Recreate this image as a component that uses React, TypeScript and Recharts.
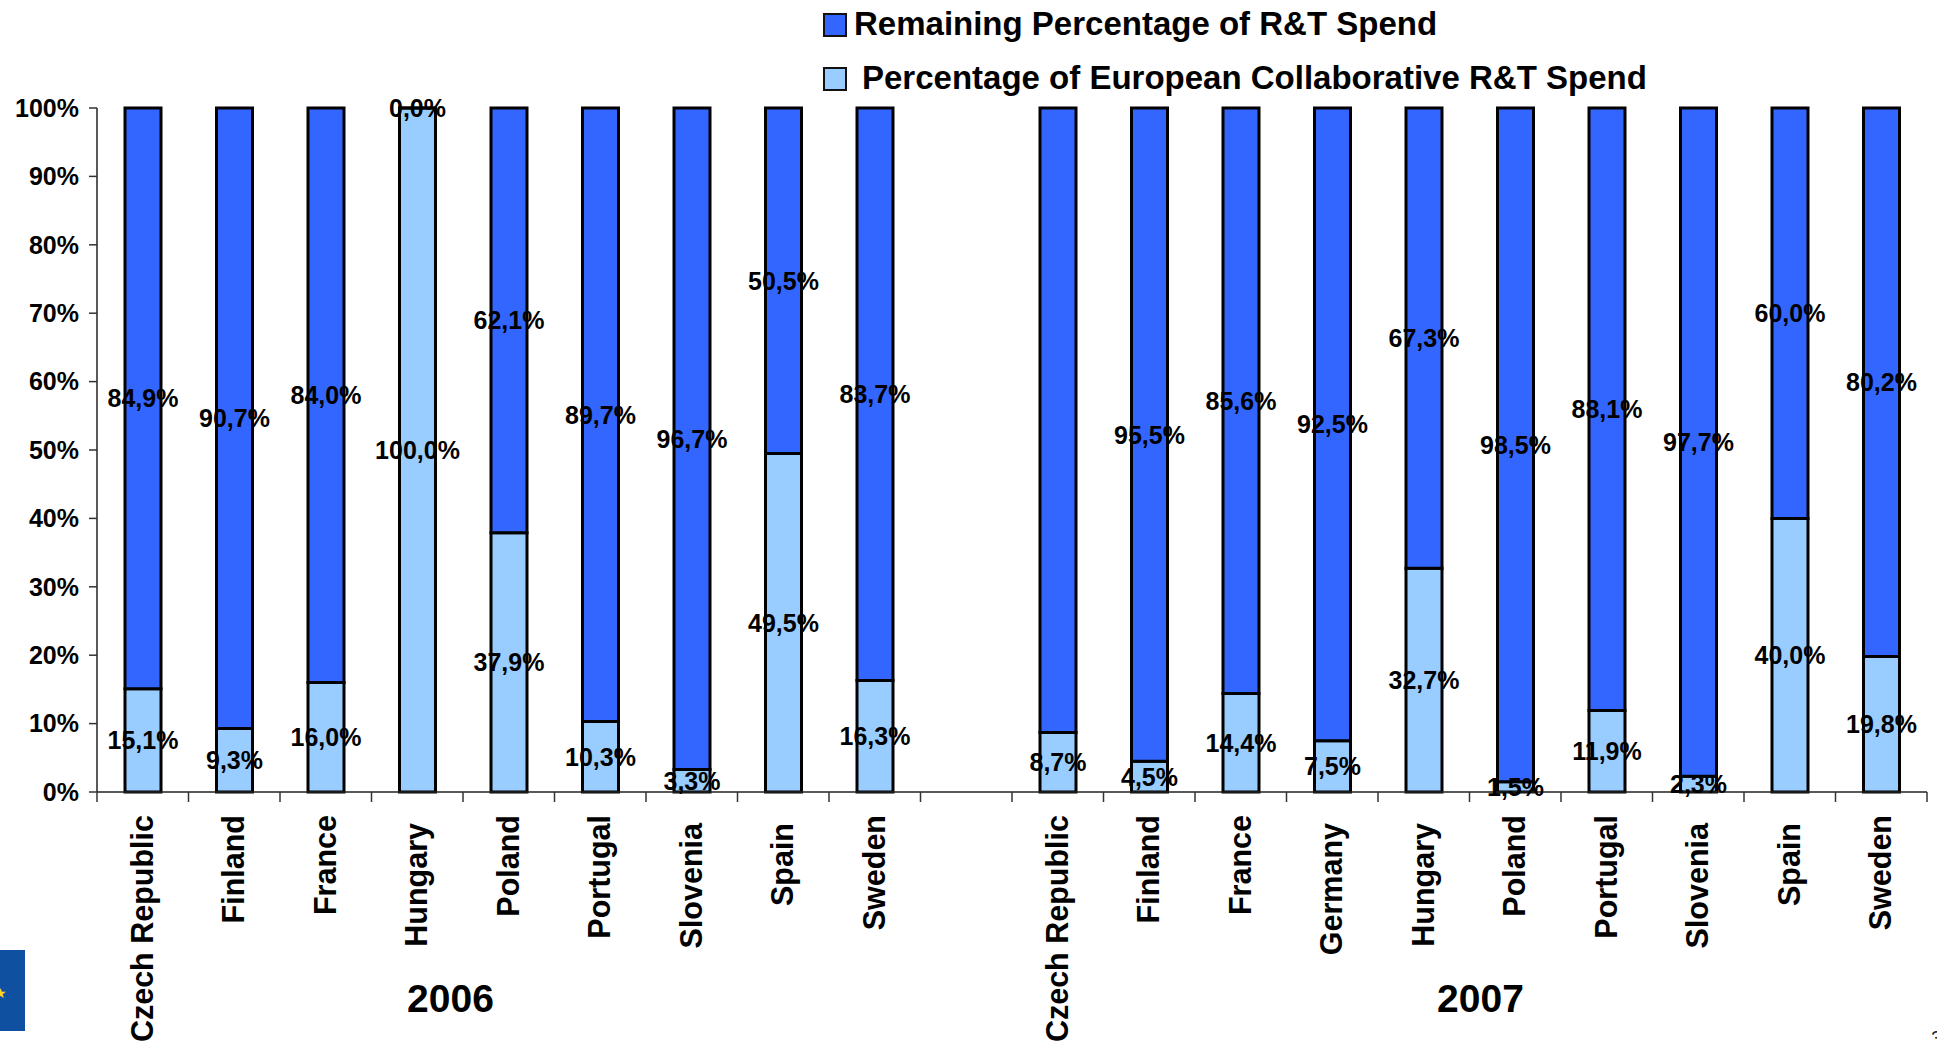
import { BarChart, Bar, XAxis, YAxis, LabelList, Legend } from "recharts";

const countries = [
  "Czech Republic", "Finland", "France", "Hungary", "Poland", "Portugal", "Slovenia", "Spain", "Sweden",
  "",
  "Czech Republic", "Finland", "France", "Germany", "Hungary", "Poland", "Portugal", "Slovenia", "Spain", "Sweden",
];
const collaborative = [15.1, 9.3, 16.0, 100, 37.9, 10.3, 3.3, 49.5, 16.3, 0, 8.7, 4.5, 14.4, 7.5, 32.7, 1.5, 11.9, 2.3, 40.0, 19.8];
const remaining = [84.9, 90.7, 84.0, 0, 62.1, 89.7, 96.7, 50.5, 83.7, 0, 91.3, 95.5, 85.6, 92.5, 67.3, 98.5, 88.1, 97.7, 60.0, 80.2];
const collaborativeLabels = ["15,1%", "9,3%", "16,0%", "100,0%", "37,9%", "10,3%", "3,3%", "49,5%", "16,3%", "", "8,7%", "4,5%", "14,4%", "7,5%", "32,7%", "1,5%", "11,9%", "2,3%", "40,0%", "19,8%"];
const remainingLabels = ["84,9%", "90,7%", "84,0%", "0,0%", "62,1%", "89,7%", "96,7%", "50,5%", "83,7%", "", "", "95,5%", "85,6%", "92,5%", "67,3%", "98,5%", "88,1%", "97,7%", "60,0%", "80,2%"];
const yTicks = [0, 10, 20, 30, 40, 50, 60, 70, 80, 90, 100];

const chartData = countries.map((name, i) => ({
  slot: i,
  name,
  collaborative: collaborative[i],
  remaining: remaining[i],
  collaborativeLabel: collaborativeLabels[i],
  remainingLabel: remainingLabels[i],
}));

const FONT = "'Liberation Sans', Arial, sans-serif";
const DARK_BLUE = "#3366FF";
const LIGHT_BLUE = "#99CCFF";
const SLOT_WIDTH = 91.5;
// these names sit a little lower than the others in the source slide
const LOWERED = ["Hungary", "Slovenia", "Spain", "Germany"];

function CountryTick({ x, y, payload, index }: any) {
  const left = x - SLOT_WIDTH / 2;
  const axisY = y - 8;
  const name = countries[payload.value];
  const top = axisY + 23 + (LOWERED.includes(name) ? 8 : 0);
  return (
    <g>
      <line x1={left} x2={left} y1={axisY} y2={axisY + 10} stroke="#333" strokeWidth={1.5} />
      {index === countries.length - 1 && (
        <line x1={left + SLOT_WIDTH} x2={left + SLOT_WIDTH} y1={axisY} y2={axisY + 10} stroke="#333" strokeWidth={1.5} />
      )}
      <text
        transform={`translate(${x + 10},${top}) rotate(-90)`}
        textAnchor="end"
        fontFamily={FONT}
        fontWeight="bold"
        fontSize={30.5}
        fill="#000"
      >
        {name}
      </text>
    </g>
  );
}

function BarLabel({ x, y, width, height, value }: any) {
  if (!value) return null;
  return (
    <text
      x={x + width / 2}
      y={y + height / 2 + 9}
      textAnchor="middle"
      fontFamily={FONT}
      fontWeight="bold"
      fontSize={25}
      fill="#000"
    >
      {value}
    </text>
  );
}

function LegendBlock() {
  const swatch = (top: number, left: number, color: string) => (
    <div
      style={{
        position: "absolute",
        left,
        top,
        width: 20,
        height: 20,
        background: color,
        border: "2px solid #111",
      }}
    />
  );
  const label = (top: number, left: number, text: string) => (
    <div
      style={{
        position: "absolute",
        left,
        top,
        whiteSpace: "nowrap",
        fontFamily: FONT,
        fontWeight: "bold",
        fontSize: 33,
        lineHeight: "36px",
        color: "#000",
      }}
    >
      {text}
    </div>
  );
  return (
    <div style={{ position: "relative", width: 1937, height: 100 }}>
      {swatch(13, 823, DARK_BLUE)}
      {label(6, 854, "Remaining Percentage of R&T Spend")}
      {swatch(67, 823, LIGHT_BLUE)}
      {label(60, 862, "Percentage of European Collaborative R&T Spend")}
    </div>
  );
}

const yearStyle = {
  position: "absolute" as const,
  top: 977,
  fontFamily: FONT,
  fontWeight: "bold",
  fontSize: 39,
  lineHeight: "44px",
  color: "#000",
  transform: "translateX(-50%)",
};

export default function App() {
  return (
    <div style={{ position: "absolute", left: 0, top: 0, width: 1937, height: 1041, overflow: "hidden", background: "#fff" }}>
      <BarChart
        width={1937}
        height={1041}
        data={chartData}
        margin={{ top: 8, right: 10, bottom: 0, left: 0 }}
        barSize={36}
      >
        <XAxis
          dataKey="slot"
          type="category"
          height={249}
          interval={0}
          axisLine={{ stroke: "#222", strokeWidth: 1.5 }}
          tickLine={false}
          tick={<CountryTick />}
        />
        <YAxis
          width={97}
          domain={[0, 100]}
          ticks={yTicks}
          interval={0}
          tickFormatter={(v) => `${v}%`}
          axisLine={{ stroke: "#222", strokeWidth: 1.5 }}
          tickLine={{ stroke: "#333", strokeWidth: 1.5 }}
          tickSize={8}
          tickMargin={10}
          tick={{ fill: "#000", fontFamily: FONT, fontWeight: "bold", fontSize: 25 }}
        />
        <Legend
          layout="horizontal"
          verticalAlign="top"
          align="left"
          wrapperStyle={{ left: 0, top: 0, width: 1937 }}
          content={<LegendBlock />}
        />
        <Bar dataKey="collaborative" stackId="spend" fill={LIGHT_BLUE} stroke="#000" strokeWidth={3} isAnimationActive={false}>
          <LabelList dataKey="collaborativeLabel" content={<BarLabel />} />
        </Bar>
        <Bar
          dataKey="remaining"
          stackId="spend"
          minPointSize={(_: any, i: number) => (remainingLabels[i] === "0,0%" ? 0.1 : 0)}
          fill={DARK_BLUE}
          stroke="#000"
          strokeWidth={3}
          isAnimationActive={false}
        >
          <LabelList dataKey="remainingLabel" content={<BarLabel />} />
        </Bar>
      </BarChart>
      <div style={{ ...yearStyle, left: 450.5 }}>2006</div>
      <div style={{ ...yearStyle, left: 1480.5 }}>2007</div>
      {/* EU flag corner and clipped page number from the slide */}
      <div style={{ position: "absolute", left: 0, top: 950, width: 25, height: 81, background: "#1050A0" }} />
      <div style={{ position: "absolute", left: -6, top: 986, color: "#FFD617", fontSize: 14, lineHeight: "14px", fontFamily: "'DejaVu Sans'" }}>★</div>
      <div style={{ position: "absolute", left: 1931, top: 1028, fontFamily: FONT, fontSize: 20, lineHeight: "20px", color: "#222" }}>3</div>
    </div>
  );
}
